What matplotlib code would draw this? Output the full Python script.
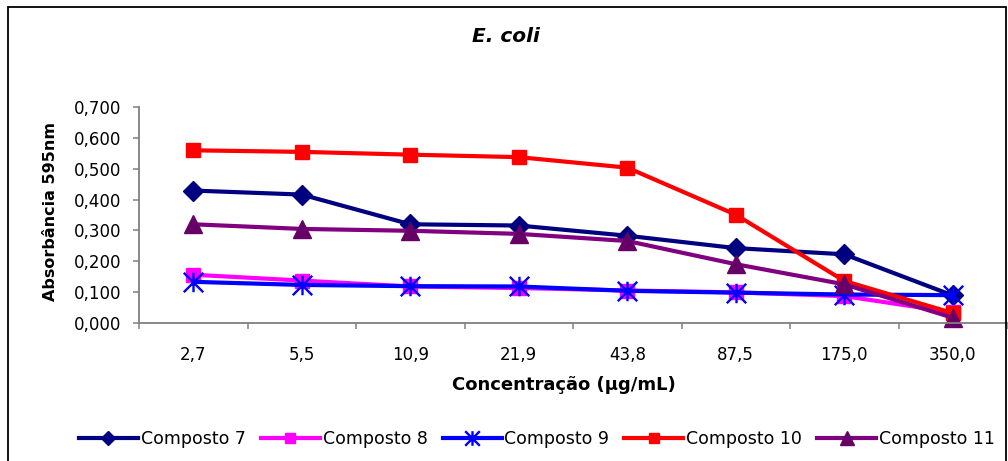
import matplotlib
matplotlib.use("Agg")
import matplotlib.pyplot as plt
from matplotlib.path import Path
from matplotlib.patches import Rectangle
from matplotlib.ticker import FixedLocator, FuncFormatter

plt.rcParams['font.family'] = ['DejaVu Sans']

# Concentrations (µg/mL) tested against E. coli
concentrations = ["2,7", "5,5", "10,9", "21,9", "43,8", "87,5", "175,0", "350,0"]

# Absorbance at 595 nm for each compound
composto_7 = [0.429, 0.416, 0.320, 0.316, 0.283, 0.243, 0.223, 0.090]
composto_8 = [0.157, 0.138, 0.119, 0.114, 0.106, 0.100, 0.088, 0.035]
composto_9 = [0.134, 0.124, 0.120, 0.119, 0.105, 0.099, 0.093, 0.091]
composto_10 = [0.559, 0.554, 0.545, 0.537, 0.503, 0.351, 0.137, 0.033]
composto_11 = [0.320, 0.305, 0.299, 0.289, 0.266, 0.191, 0.126, 0.018]

series_names = ["Composto 7", "Composto 8", "Composto 9", "Composto 10", "Composto 11"]

# Asterisk marker: an "x" crossed by a vertical bar
star = Path([(0, -1), (0, 1), (-1, -1), (1, 1), (-1, 1), (1, -1)],
            [Path.MOVETO, Path.LINETO, Path.MOVETO, Path.LINETO, Path.MOVETO, Path.LINETO])

styles = [
    dict(color="#000080", marker="D", mfc="#000080", mec="#000080", ms=10),
    dict(color="#FF00FF", marker="s", mfc="#FF00FF", mec="#FF00FF", ms=10),
    dict(color="#0000FF", marker=star, mfc="none", mec="#0000FF", ms=14, mew=1.7),
    dict(color="#FF0000", marker="s", mfc="#FF0000", mec="#FF0000", ms=10),
    dict(color="#800080", marker="^", mfc="#660066", mec="#660066", ms=12.5),
]

fig = plt.figure(figsize=(10.08, 4.61), dpi=100)
ax = fig.add_axes([139 / 1008, 1 - 323.3 / 461, (1007 - 139) / 1008, (323.3 - 106.7) / 461])

x = list(range(len(concentrations)))
all_series = [composto_7, composto_8, composto_9, composto_10, composto_11]
for name, vals, st in zip(series_names, all_series, styles):
    ax.plot(x, vals, label=name, lw=3.0, clip_on=False, **st)

axis_color = "#808080"
ax.set_xlim(-0.5, len(concentrations) - 0.5)
ax.set_ylim(0, 0.7)
ax.yaxis.set_major_locator(FixedLocator([i / 10 for i in range(8)]))
ax.yaxis.set_major_formatter(FuncFormatter(lambda v, p: f"{v:.3f}".replace(".", ",")))
ax.set_xticks(x)
ax.set_xticklabels(concentrations)
ax.set_xticks([i - 0.5 for i in range(len(concentrations) + 1)], minor=True)
ax.tick_params(axis="x", which="major", length=0, pad=16.5, labelsize=12)
ax.tick_params(axis="x", which="minor", length=4, color=axis_color, width=1.1)
ax.tick_params(axis="y", which="major", length=4.3, color=axis_color, width=1.1, pad=8.5, labelsize=12)

for side in ("top", "right"):
    ax.spines[side].set_visible(False)
for side in ("left", "bottom"):
    ax.spines[side].set_color(axis_color)
    ax.spines[side].set_linewidth(1.3)

ax.set_ylabel("Absorbância 595nm", fontsize=11.5, fontweight="bold")
ax.yaxis.set_label_coords(-0.1014, 0.518)
ax.yaxis.label.set_verticalalignment("center")
ax.set_xlabel("Concentração (µg/mL)", fontsize=13, fontweight="bold")
ax.xaxis.set_label_coords(0.4896, -0.284)
ax.xaxis.label.set_verticalalignment("center")

fig.text(506 / 1008, 1 - 37 / 461, "E. coli", ha="center", va="center",
         fontsize=14.5, fontweight="bold", fontstyle="italic")

leg = fig.legend(loc="center", bbox_to_anchor=(537 / 1008, 1 - 439 / 461), ncol=5,
                 frameon=False, fontsize=12.5, handlelength=3.4, handletextpad=0.17,
                 columnspacing=0.86, markerscale=0.75, borderpad=0)

fig.add_artist(Rectangle((8 / 1008, -0.05), (1006 - 8) / 1008, 1.05 - 7.5 / 461,
                         transform=fig.transFigure, fill=False, edgecolor="black", lw=1.3))

fig.savefig("out.png", dpi=100, facecolor="white")
